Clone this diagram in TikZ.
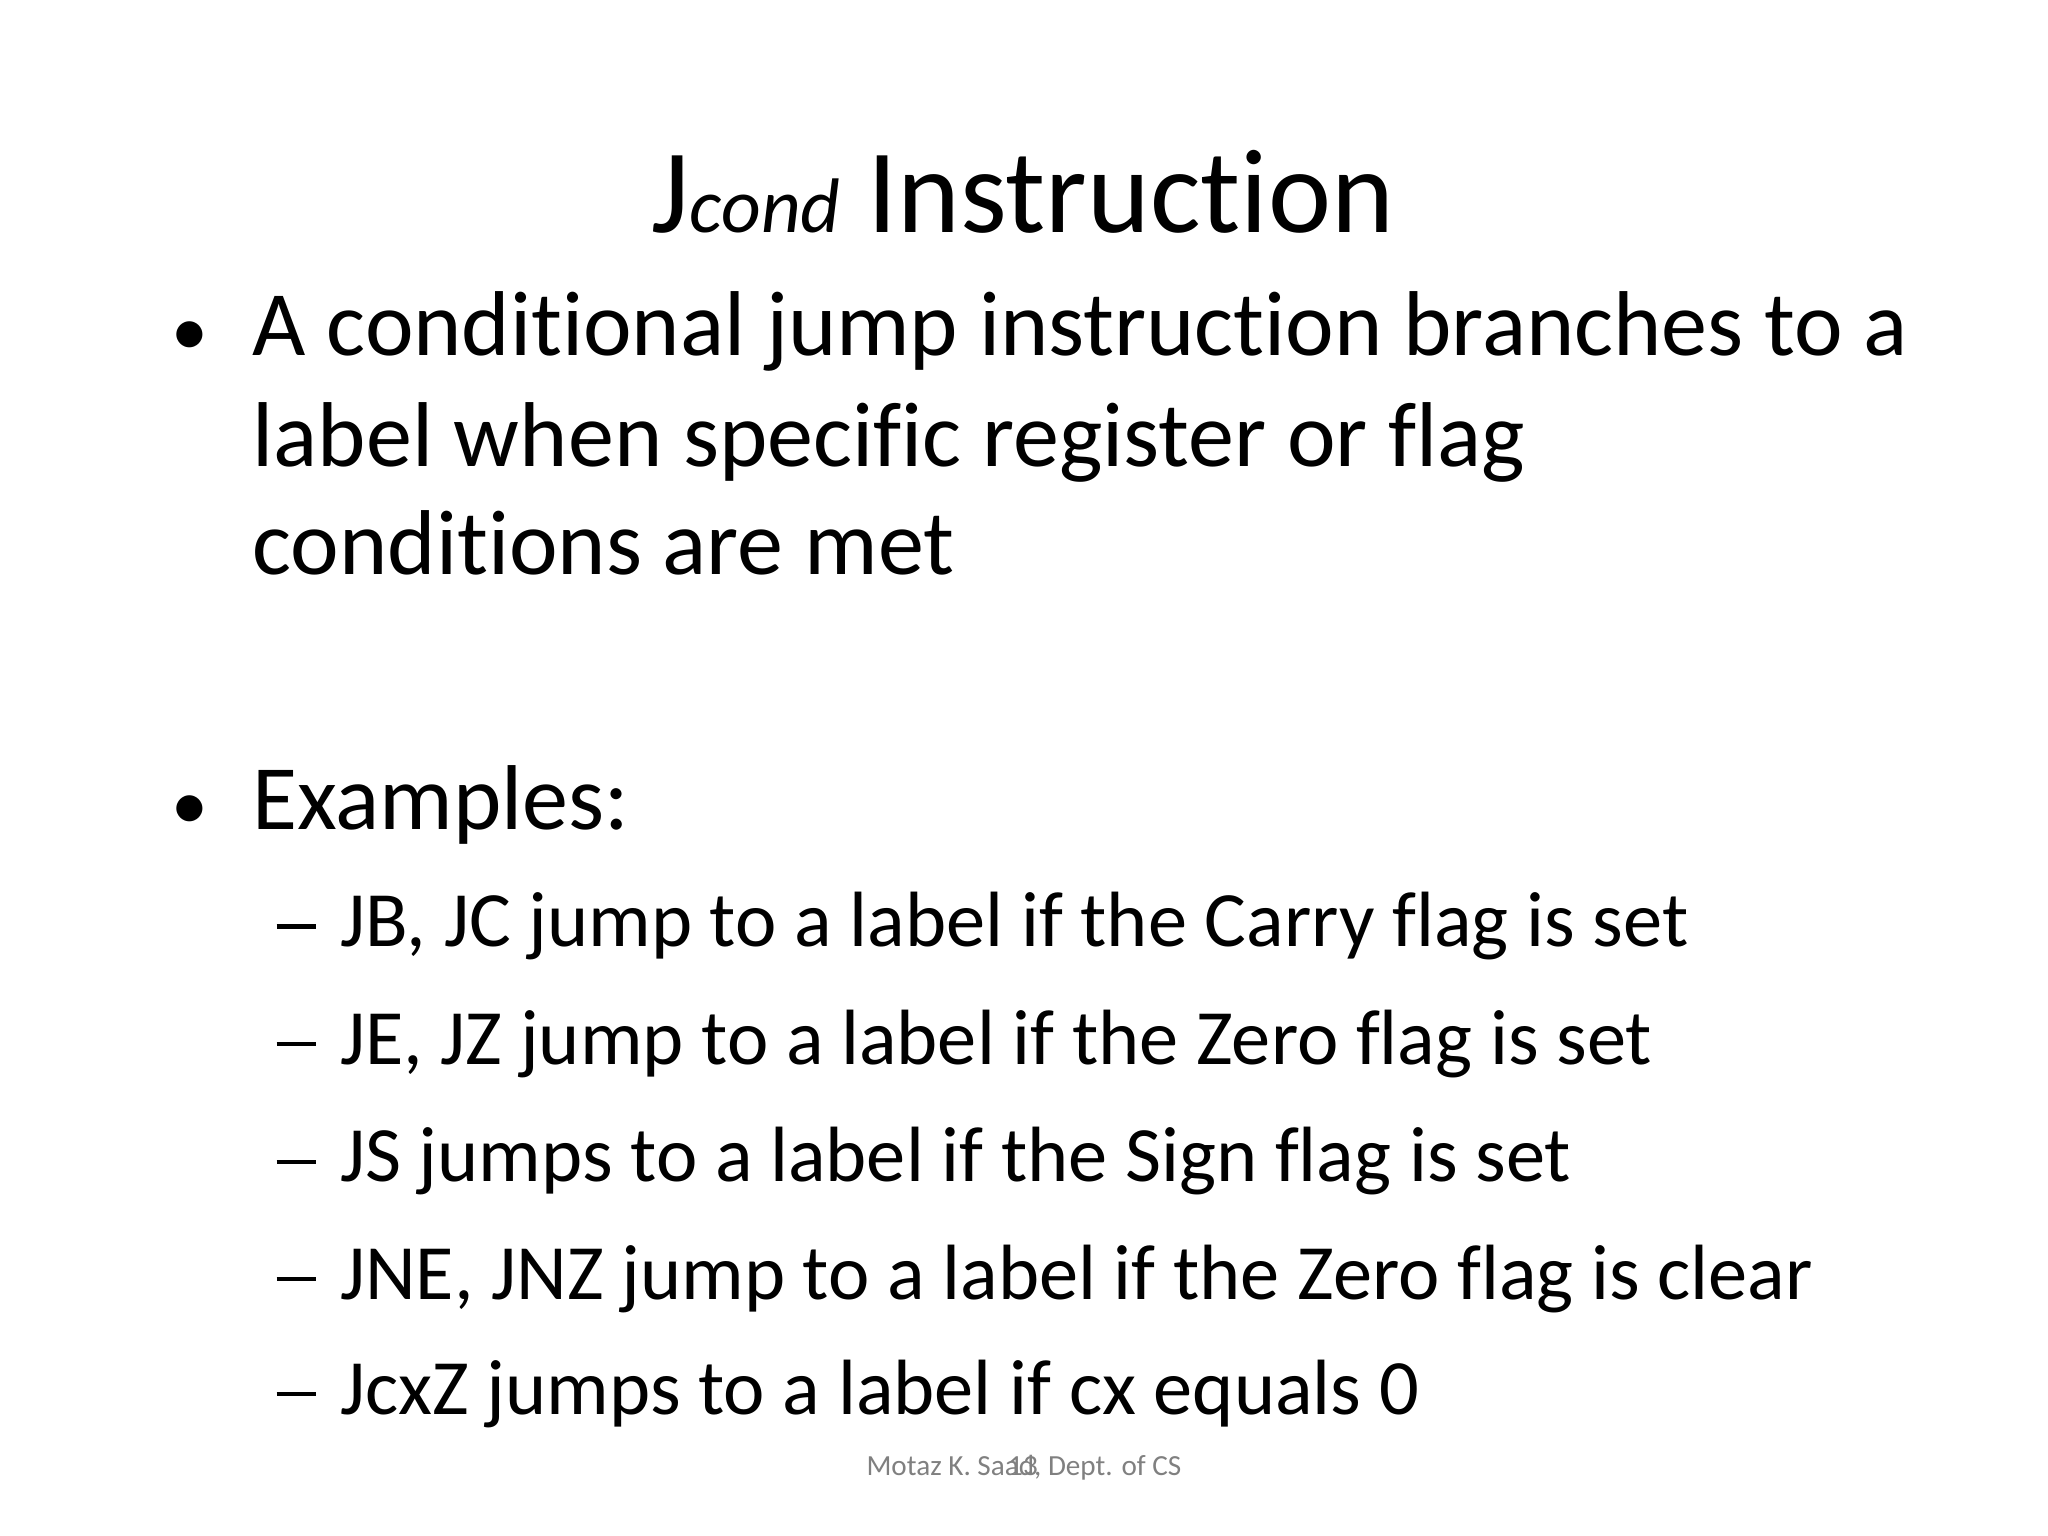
\documentclass[tikz,border=0pt]{standalone}
\usepackage{fontspec}
\setmainfont[Ligatures=NoCommon]{Carlito}
\begin{document}
\begin{tikzpicture}
\useasboundingbox (0,0) rectangle (20.48,15.36);
\tikzset{body/.style={anchor=base west,inner sep=0pt,font=\fontsize{26.2}{32}\selectfont},
 sub/.style={anchor=base west,inner sep=0pt,font=\fontsize{22.3}{27}\selectfont},
 dashmark/.style={anchor=base west,inner sep=0pt,font=\fontsize{22.3}{27}\selectfont},
 foot/.style={anchor=base,inner sep=0pt,text=gray,font=\fontsize{8.3}{10}\selectfont}}
\node[anchor=base,inner sep=0pt,font=\fontsize{34}{40}\selectfont] (title) at (10.23,13.035) {J{\fontsize{22}{26}\selectfont\itshape cond} Instruction};
\node[body,anchor=base,font=\fontsize{21}{26}\selectfont] (b1) at (1.894,11.808) {•};
\node[body] (l1) at (2.52,11.808) {A conditional jump instruction branches to a};
\node[body] (l2) at (2.52,10.698) {label when specific register or flag};
\node[body] (l3) at (2.52,9.614) {conditions are met};
\node[body,anchor=base,font=\fontsize{21}{26}\selectfont] (b2) at (1.894,7.067) {•};
\node[body] (ex) at (2.52,7.067) {Examples:};
\foreach \y/\t [count=\i] in {5.892/{JB, JC jump to a label if the Carry flag is set},
 4.716/{JE, JZ jump to a label if the Zero flag is set},
 3.541/{JS jumps to a label if the Sign flag is set},
 2.365/{JNE, JNZ jump to a label if the Zero flag is clear},
 1.216/{JcxZ jumps to a label if cx equals 0}}{
 \node[dashmark] (d\i) at (2.76,\y) {\rule[0.23em]{0.5em}{0.055em}};
 \node[sub] (s\i) at (3.396,\y) {\t};
}
\node[foot] (f1) at (10.24,0.602) {Motaz K. Saad, Dept. of CS};
\node[foot] (f2) at (10.23,0.602) {13};
\end{tikzpicture}
\end{document}
